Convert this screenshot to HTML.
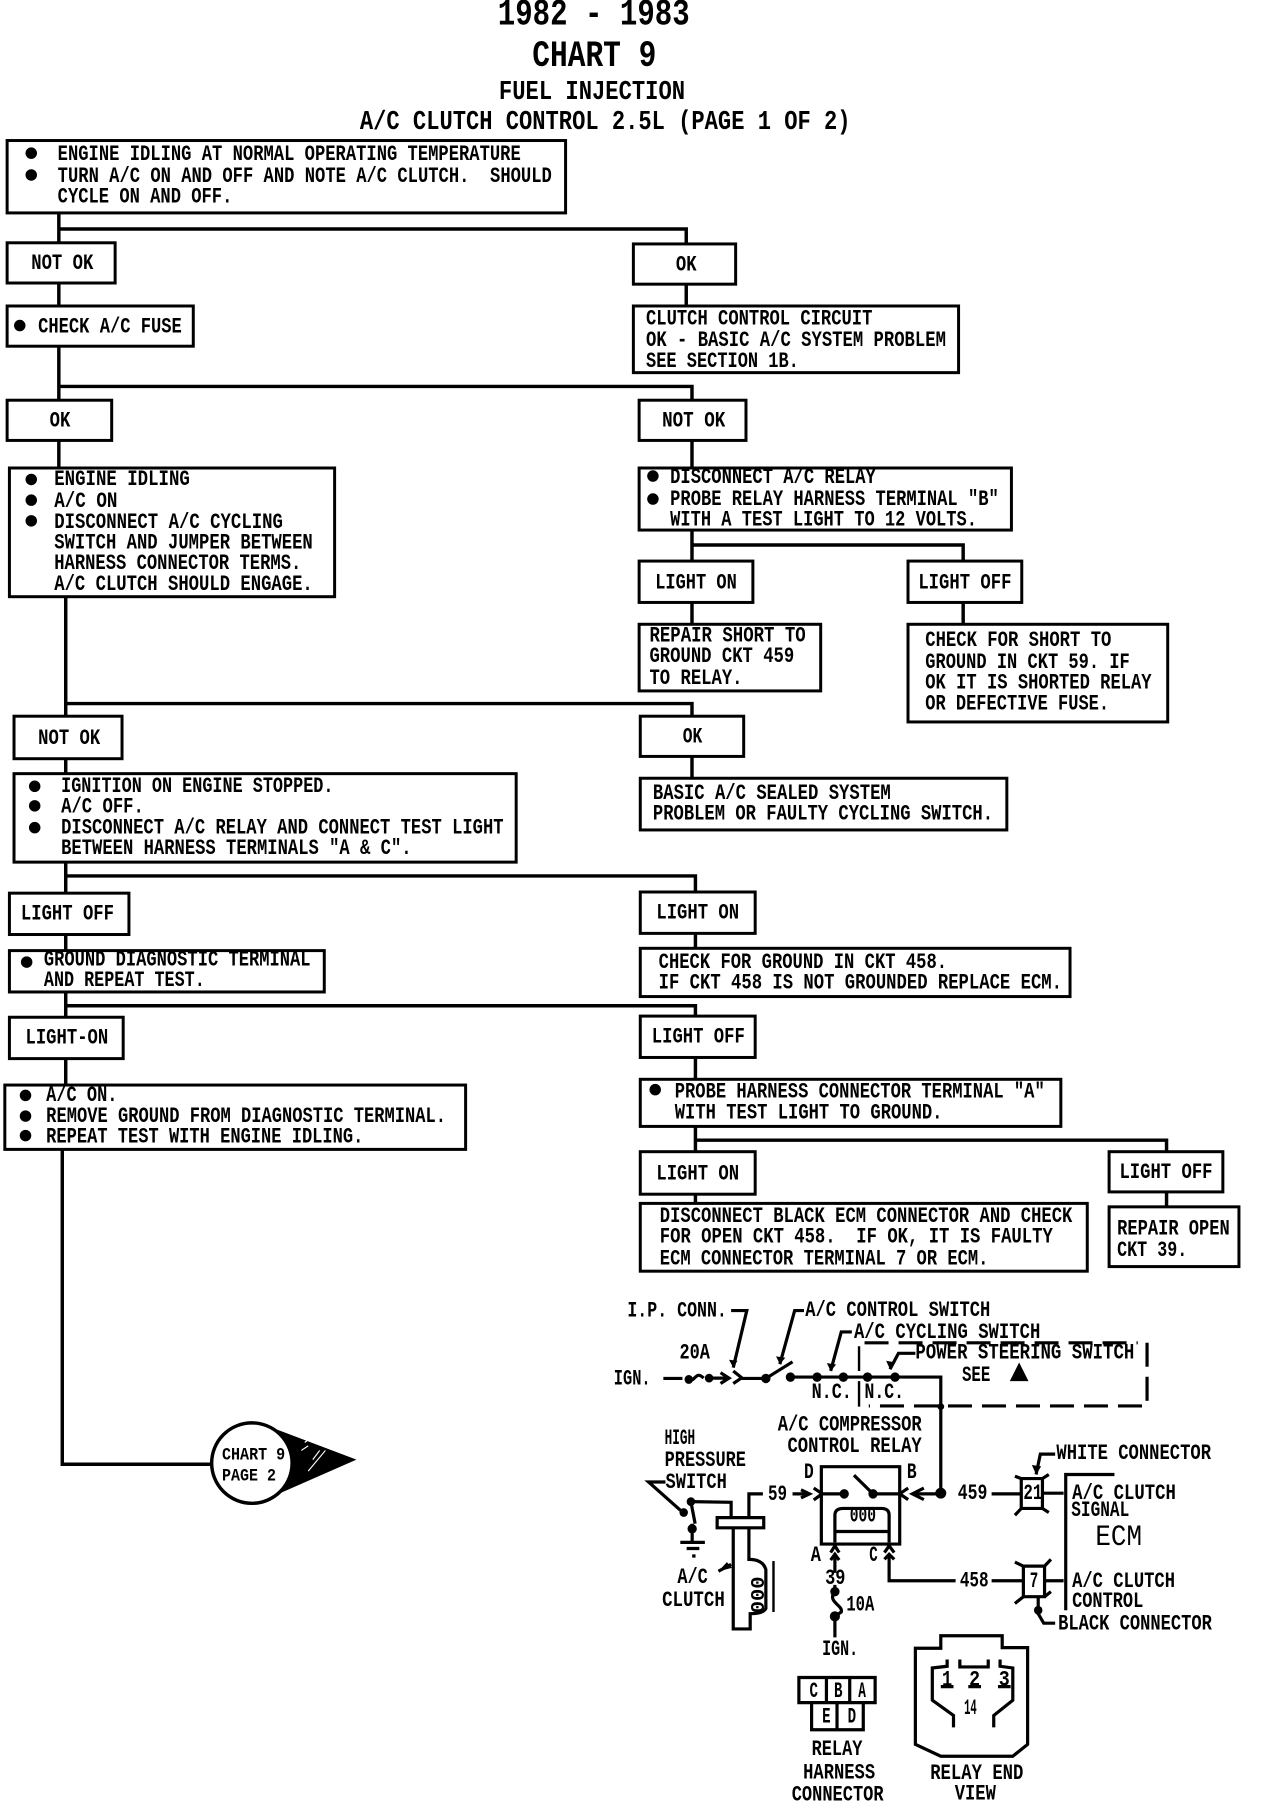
<!DOCTYPE html>
<html><head><meta charset="utf-8"><title>Chart 9</title>
<style>
html,body{margin:0;padding:0;background:#fff;overflow:hidden}
svg{display:block}
text{font-family:"Liberation Mono",monospace;font-weight:bold;fill:#000}
.t{font-size:19px}
.m{font-size:23px}
.l{font-size:32px}
.s{font-size:15px}
.b rect{fill:#fff;stroke:#000;stroke-width:2.6}
.c path{fill:none;stroke:#000;stroke-width:3}
.w path,.w rect,.w line{fill:none;stroke:#000;stroke-width:3.2;vector-effect:non-scaling-stroke}
.w .th{stroke-width:2.4}
.w .d{stroke-width:3.2;stroke-dasharray:24 10}
.w path.f{fill:#000;stroke:none}
.w text{font-size:66px}
.w .big{font-size:88px;font-weight:normal}
</style></head><body>
<svg xmlns="http://www.w3.org/2000/svg" width="1264" height="1804" viewBox="0 0 1100 1570" preserveAspectRatio="none">
<rect width="1100" height="1570" fill="#fff"/>
<g transform="translate(.2,.3)">
<g class="c">
<path d="M51 185V211M51 199H597V212M597 247V266M51 246V266M51 301V348M51 336H602V348M602 383V407M51 383V407M602 461V488M602 474H838V488M602 524V543M838 524V543"/>
<path d="M57 519V623M57 612H602V623M602 658V677M57 660V673M57 750V777M57 762H605V776M605 812V825M57 813V827M57 863V885M57 875H605V884M605 920V939M57 921V944M605 980V1002M605 992H1015V1002M1015 1037V1050M605 1039V1047"/>
<path d="M54 1000V1274H186"/>
</g>

<g class="b">
<rect x="6" y="122" width="486" height="63"/>
<rect x="6" y="211" width="94" height="35"/>
<rect x="551" y="212" width="89" height="35"/>
<rect x="6" y="266" width="162" height="35"/>
<rect x="551" y="266" width="283" height="58"/>
<rect x="6" y="348" width="91" height="35"/>
<rect x="556" y="348" width="93" height="35"/>
<rect x="8" y="407" width="283" height="112"/>
<rect x="556" y="407" width="324" height="54"/>
<rect x="556" y="488" width="99" height="36"/>
<rect x="790" y="488" width="99" height="36"/>
<rect x="556" y="543" width="158" height="58"/>
<rect x="790" y="543" width="226" height="85"/>
<rect x="12" y="623" width="94" height="37"/>
<rect x="557" y="623" width="90" height="35"/>
<rect x="12" y="673" width="437" height="77"/>
<rect x="557" y="677" width="319" height="45"/>
<rect x="8" y="777" width="104" height="36"/>
<rect x="557" y="776" width="100" height="36"/>
<rect x="8" y="827" width="274" height="36"/>
<rect x="557" y="825" width="374" height="42"/>
<rect x="8" y="885" width="99" height="36"/>
<rect x="557" y="884" width="100" height="36"/>
<rect x="4" y="944" width="401" height="56"/>
<rect x="557" y="939" width="366" height="41"/>
<rect x="557" y="1002" width="100" height="37"/>
<rect x="965" y="1002" width="99" height="35"/>
<rect x="557" y="1047" width="389" height="59"/>
<rect x="965" y="1050" width="113" height="52"/>
</g>

<g>
<circle cx="27" cy="133" r="5"/><circle cx="27" cy="152" r="5"/>
<circle cx="17" cy="283" r="5"/>
<circle cx="27" cy="417" r="5"/><circle cx="27" cy="435" r="5"/><circle cx="27" cy="453" r="5"/>
<circle cx="568" cy="414" r="5"/><circle cx="568" cy="434" r="5"/>
<circle cx="30" cy="684" r="5"/><circle cx="30" cy="701" r="5"/><circle cx="30" cy="720" r="5"/>
<circle cx="23" cy="837" r="5"/>
<circle cx="22" cy="953" r="5"/><circle cx="22" cy="971" r="5"/><circle cx="22" cy="988" r="5"/>
<circle cx="570" cy="948" r="5"/>
</g>

<text class="l" x="433" y="21" textLength="167" lengthAdjust="spacingAndGlyphs">1982 - 1983</text>
<text class="l" x="463" y="57" textLength="108" lengthAdjust="spacingAndGlyphs">CHART 9</text>
<text class="m" x="434" y="86" textLength="162" lengthAdjust="spacingAndGlyphs">FUEL INJECTION</text>
<text class="m" x="313" y="112" textLength="427" lengthAdjust="spacingAndGlyphs">A/C CLUTCH CONTROL 2.5L (PAGE 1 OF 2)</text>

<g class="t">
<text class="t" x="50" y="139" textLength="403" lengthAdjust="spacingAndGlyphs">ENGINE IDLING AT NORMAL OPERATING TEMPERATURE</text>
<text class="t" x="50" y="158" textLength="430" lengthAdjust="spacingAndGlyphs">TURN A/C ON AND OFF AND NOTE A/C CLUTCH.&#160;&#160;SHOULD</text>
<text class="t" x="50" y="176" textLength="152" lengthAdjust="spacingAndGlyphs">CYCLE ON AND OFF.</text>
<text class="t" x="27" y="234" textLength="54" lengthAdjust="spacingAndGlyphs">NOT OK</text>
<text class="t" x="588" y="235" textLength="18" lengthAdjust="spacingAndGlyphs">OK</text>
<text class="t" x="33" y="289" textLength="125" lengthAdjust="spacingAndGlyphs">CHECK A/C FUSE</text>
<text class="t" x="562" y="282" textLength="197" lengthAdjust="spacingAndGlyphs">CLUTCH CONTROL CIRCUIT</text>
<text class="t" x="562" y="301" textLength="261" lengthAdjust="spacingAndGlyphs">OK - BASIC A/C SYSTEM PROBLEM</text>
<text class="t" x="562" y="319" textLength="133" lengthAdjust="spacingAndGlyphs">SEE SECTION 1B.</text>
<text class="t" x="43" y="371" textLength="18" lengthAdjust="spacingAndGlyphs">OK</text>
<text class="t" x="576" y="371" textLength="55" lengthAdjust="spacingAndGlyphs">NOT OK</text>
<text class="t" x="47" y="422" textLength="118" lengthAdjust="spacingAndGlyphs">ENGINE IDLING</text>
<text class="t" x="47" y="441" textLength="55" lengthAdjust="spacingAndGlyphs">A/C ON</text>
<text class="t" x="47" y="459" textLength="199" lengthAdjust="spacingAndGlyphs">DISCONNECT A/C CYCLING</text>
<text class="t" x="47" y="477" textLength="225" lengthAdjust="spacingAndGlyphs">SWITCH AND JUMPER BETWEEN</text>
<text class="t" x="47" y="495" textLength="215" lengthAdjust="spacingAndGlyphs">HARNESS CONNECTOR TERMS.</text>
<text class="t" x="47" y="513" textLength="225" lengthAdjust="spacingAndGlyphs">A/C CLUTCH SHOULD ENGAGE.</text>
<text class="t" x="583" y="420" textLength="179" lengthAdjust="spacingAndGlyphs">DISCONNECT A/C RELAY</text>
<text class="t" x="583" y="439" textLength="286" lengthAdjust="spacingAndGlyphs">PROBE RELAY HARNESS TERMINAL "B"</text>
<text class="t" x="583" y="457" textLength="267" lengthAdjust="spacingAndGlyphs">WITH A TEST LIGHT TO 12 VOLTS.</text>
<text class="t" x="570" y="512" textLength="71" lengthAdjust="spacingAndGlyphs">LIGHT ON</text>
<text class="t" x="799" y="512" textLength="81" lengthAdjust="spacingAndGlyphs">LIGHT OFF</text>
<text class="t" x="565" y="558" textLength="136" lengthAdjust="spacingAndGlyphs">REPAIR SHORT TO</text>
<text class="t" x="565" y="576" textLength="126" lengthAdjust="spacingAndGlyphs">GROUND CKT 459</text>
<text class="t" x="565" y="595" textLength="81" lengthAdjust="spacingAndGlyphs">TO RELAY.</text>
<text class="t" x="805" y="562" textLength="162" lengthAdjust="spacingAndGlyphs">CHECK FOR SHORT TO</text>
<text class="t" x="805" y="581" textLength="178" lengthAdjust="spacingAndGlyphs">GROUND IN CKT 59. IF</text>
<text class="t" x="805" y="599" textLength="197" lengthAdjust="spacingAndGlyphs">OK IT IS SHORTED RELAY</text>
<text class="t" x="805" y="617" textLength="160" lengthAdjust="spacingAndGlyphs">OR DEFECTIVE FUSE.</text>
<text class="t" x="33" y="647" textLength="54" lengthAdjust="spacingAndGlyphs">NOT OK</text>
<text class="t" x="594" y="646" textLength="17" lengthAdjust="spacingAndGlyphs">OK</text>
<text class="t" x="53" y="689" textLength="237" lengthAdjust="spacingAndGlyphs">IGNITION ON ENGINE STOPPED.</text>
<text class="t" x="53" y="707" textLength="72" lengthAdjust="spacingAndGlyphs">A/C OFF.</text>
<text class="t" x="53" y="725" textLength="385" lengthAdjust="spacingAndGlyphs">DISCONNECT A/C RELAY AND CONNECT TEST LIGHT</text>
<text class="t" x="53" y="743" textLength="305" lengthAdjust="spacingAndGlyphs">BETWEEN HARNESS TERMINALS "A &amp; C".</text>
<text class="t" x="568" y="695" textLength="207" lengthAdjust="spacingAndGlyphs">BASIC A/C SEALED SYSTEM</text>
<text class="t" x="568" y="713" textLength="296" lengthAdjust="spacingAndGlyphs">PROBLEM OR FAULTY CYCLING SWITCH.</text>
<text class="t" x="18" y="800" textLength="81" lengthAdjust="spacingAndGlyphs">LIGHT OFF</text>
<text class="t" x="571" y="799" textLength="72" lengthAdjust="spacingAndGlyphs">LIGHT ON</text>
<text class="t" x="38" y="840" textLength="232" lengthAdjust="spacingAndGlyphs">GROUND DIAGNOSTIC TERMINAL</text>
<text class="t" x="38" y="858" textLength="140" lengthAdjust="spacingAndGlyphs">AND REPEAT TEST.</text>
<text class="t" x="573" y="842" textLength="251" lengthAdjust="spacingAndGlyphs">CHECK FOR GROUND IN CKT 458.</text>
<text class="t" x="573" y="860" textLength="351" lengthAdjust="spacingAndGlyphs">IF CKT 458 IS NOT GROUNDED REPLACE ECM.</text>
<text class="t" x="22" y="908" textLength="72" lengthAdjust="spacingAndGlyphs">LIGHT-ON</text>
<text class="t" x="567" y="907" textLength="81" lengthAdjust="spacingAndGlyphs">LIGHT OFF</text>
<text class="t" x="40" y="958" textLength="62" lengthAdjust="spacingAndGlyphs">A/C ON.</text>
<text class="t" x="40" y="976" textLength="348" lengthAdjust="spacingAndGlyphs">REMOVE GROUND FROM DIAGNOSTIC TERMINAL.</text>
<text class="t" x="40" y="994" textLength="276" lengthAdjust="spacingAndGlyphs">REPEAT TEST WITH ENGINE IDLING.</text>
<text class="t" x="587" y="955" textLength="322" lengthAdjust="spacingAndGlyphs">PROBE HARNESS CONNECTOR TERMINAL "A"</text>
<text class="t" x="587" y="973" textLength="233" lengthAdjust="spacingAndGlyphs">WITH TEST LIGHT TO GROUND.</text>
<text class="t" x="571" y="1026" textLength="72" lengthAdjust="spacingAndGlyphs">LIGHT ON</text>
<text class="t" x="974" y="1025" textLength="81" lengthAdjust="spacingAndGlyphs">LIGHT OFF</text>
<text class="t" x="574" y="1063" textLength="359" lengthAdjust="spacingAndGlyphs">DISCONNECT BLACK ECM CONNECTOR AND CHECK</text>
<text class="t" x="574" y="1081" textLength="342" lengthAdjust="spacingAndGlyphs">FOR OPEN CKT 458.&#160;&#160;IF OK, IT IS FAULTY</text>
<text class="t" x="574" y="1100" textLength="286" lengthAdjust="spacingAndGlyphs">ECM CONNECTOR TERMINAL 7 OR ECM.</text>
<text class="t" x="972" y="1074" textLength="98" lengthAdjust="spacingAndGlyphs">REPAIR OPEN</text>
<text class="t" x="972" y="1093" textLength="61" lengthAdjust="spacingAndGlyphs">CKT 39.</text>
</g>

<!-- off-page connector -->
<path d="M228 1239L310 1270L228 1306Z" fill="#000"/>
<path d="M265 1255L272 1250M278 1262L272 1270M283 1262L268 1280M262 1262L268 1258" stroke="#fff" stroke-width="1" fill="none"/>
<circle cx="219" cy="1273" r="35" fill="#fff" stroke="#000" stroke-width="3"/>
<text class="s" x="193" y="1270" textLength="55" lengthAdjust="spacingAndGlyphs">CHART 9</text>
<text class="s" x="193" y="1288" textLength="47" lengthAdjust="spacingAndGlyphs">PAGE 2</text>
</g>

<!-- clutch coil label placed in page units -->
<text transform="translate(665,1404) rotate(-90)" style="font-size:17px" textLength="32" lengthAdjust="spacingAndGlyphs">000</text>

<!-- wiring schematic -->
<g class="w" transform="translate(522,1106) scale(.3686,.2954)">
<path d="M150 317H195M205 320C225 335 225 290 245 316M258 316H300M285 300L305 316L285 332M315 295L335 315L315 332M335 317H392L455 268M450 313H805V657M805 657H740M765 640L738 657L765 674M728 640L708 657L728 674M708 657H645L600 602M577 657H525M505 640L525 657L505 675"/>
<path d="M310 117H347L315 285M482 117H460L425 275M595 180H570L545 295M745 243H705L685 290"/>
<path class="d" d="M625 212H1270"/>
<path class="d" d="M1292 212V388"/>
<path class="d" d="M1280 398H635"/>
<path class="th" d="M612 222V295M612 325V400"/>
<path d="M455 657H490M475 645L495 657L475 669"/>
<rect x="523" y="577" width="185" height="228"/>
<path d="M555 800V720Q555 700 575 700H665Q683 700 683 720V800M555 768H683"/>
<path d="M545 830L555 810L565 830M555 890V832M545 852L555 835L565 852M555 925V945M672 830L683 810L695 830M672 850L683 835L695 850M683 840V913H840M925 913H1000M1050 913H1095"/>
<path d="M555 945C535 975 575 985 570 1005L555 1018V1080"/>
<path d="M925 657H995M1045 655H1095M1100 1000V600H1215"/>
<rect x="995" y="612" width="50" height="88"/>
<path d="M980 605L995 612M1045 612L1060 600M980 720L995 700M1045 700L1060 712M980 858L1000 870M1050 870L1065 850M980 980L1000 960M1050 960L1065 945"/>
<rect x="1000" y="870" width="50" height="90"/>
<path d="M1075 540H1040L1030 600M1035 960V1010L1048 1038H1075"/>
<path d="M385 657H352V725M215 680L310 682V725M352 757V850Q385 850 392 880V995Q385 1010 355 1010V1055H315V757"/>
<rect x="277" y="727" width="110" height="30"/>
<path class="th" d="M410 855V1005"/>
<path d="M155 622H115L190 705M215 680L225 745M218 745V797M190 800H248M205 818H235M218 840H226M280 885L310 865"/>
<path d="M745 1112H805V1075H950V1110H1010V1395L975 1430H805L745 1395Z"/>
<path d="M820 1145V1165L785 1170V1265L835 1310V1345M945 1145V1165L975 1170V1265L930 1310V1345M850 1145V1167H917V1145"/>
<path d="M805 1225H835M870 1225H900M940 1225H970"/>
<rect x="470" y="1198" width="180" height="74"/>
<path d="M535 1198V1272M590 1198V1272M500 1272V1352H622V1272M560 1272V1352"/>
<path class="f" d="M968 325L990 270L1012 325Z"/>
<g fill="#000">
<ellipse cx="210" cy="320" rx="10" ry="13"/><ellipse cx="258" cy="316" rx="10" ry="13"/><ellipse cx="392" cy="317" rx="11" ry="14"/><ellipse cx="450" cy="313" rx="11" ry="14"/><ellipse cx="513" cy="313" rx="11" ry="14"/><ellipse cx="575" cy="313" rx="11" ry="14"/><ellipse cx="632" cy="313" rx="11" ry="14"/><ellipse cx="697" cy="313" rx="11" ry="14"/><ellipse cx="805" cy="400" rx="8" ry="10"/>
<ellipse cx="577" cy="657" rx="11" ry="14"/><ellipse cx="645" cy="657" rx="11" ry="14"/><ellipse cx="805" cy="655" rx="13" ry="16"/><ellipse cx="555" cy="945" rx="11" ry="14"/><ellipse cx="555" cy="1018" rx="12" ry="15"/><ellipse cx="215" cy="680" rx="10" ry="13"/><ellipse cx="198" cy="712" rx="10" ry="13"/><ellipse cx="218" cy="760" rx="11" ry="14"/><ellipse cx="1035" cy="1000" rx="10" ry="13"/>
<path class="f" d="M315 285L305 262L325 265ZM425 275L416 252L438 256ZM545 295L536 272L558 276ZM685 290L676 265L698 270ZM1030 600L1020 572L1042 576ZM280 885L300 858L312 875Z"/>
</g>
<g>
<text x="65" y="135" textLength="235" lengthAdjust="spacingAndGlyphs">I.P. CONN.</text>
<text x="485" y="133" textLength="437" lengthAdjust="spacingAndGlyphs">A/C CONTROL SWITCH</text>
<text x="600" y="198" textLength="440" lengthAdjust="spacingAndGlyphs">A/C CYCLING SWITCH</text>
<text x="745" y="258" textLength="517" lengthAdjust="spacingAndGlyphs">POWER STEERING SWITCH</text>
<text x="188" y="258" textLength="72" lengthAdjust="spacingAndGlyphs">20A</text>
<text x="33" y="335" textLength="87" lengthAdjust="spacingAndGlyphs">IGN.</text>
<text x="855" y="325" textLength="67" lengthAdjust="spacingAndGlyphs">SEE</text>
<text x="500" y="375" textLength="95" lengthAdjust="spacingAndGlyphs">N.C.</text>
<text x="625" y="375" textLength="93" lengthAdjust="spacingAndGlyphs">N.C.</text>
<text x="420" y="470" textLength="340" lengthAdjust="spacingAndGlyphs">A/C COMPRESSOR</text>
<text x="443" y="533" textLength="317" lengthAdjust="spacingAndGlyphs">CONTROL RELAY</text>
<text x="153" y="510" textLength="72" lengthAdjust="spacingAndGlyphs">HIGH</text>
<text x="153" y="575" textLength="192" lengthAdjust="spacingAndGlyphs">PRESSURE</text>
<text x="155" y="640" textLength="145" lengthAdjust="spacingAndGlyphs">SWITCH</text>
<text x="482" y="610" textLength="23" lengthAdjust="spacingAndGlyphs">D</text>
<text x="725" y="610" textLength="23" lengthAdjust="spacingAndGlyphs">B</text>
<text x="397" y="675" textLength="45" lengthAdjust="spacingAndGlyphs">59</text>
<text x="845" y="672" textLength="70" lengthAdjust="spacingAndGlyphs">459</text>
<text x="1078" y="555" textLength="365" lengthAdjust="spacingAndGlyphs">WHITE CONNECTOR</text>
<text x="1115" y="672" textLength="245" lengthAdjust="spacingAndGlyphs">A/C CLUTCH</text>
<text x="1113" y="723" textLength="137" lengthAdjust="spacingAndGlyphs">SIGNAL</text>
<text class="big" x="1170" y="808" textLength="110" lengthAdjust="spacingAndGlyphs">ECM</text>
<text x="1115" y="932" textLength="243" lengthAdjust="spacingAndGlyphs">A/C CLUTCH</text>
<text x="1115" y="990" textLength="168" lengthAdjust="spacingAndGlyphs">CONTROL</text>
<text x="1082" y="1057" textLength="363" lengthAdjust="spacingAndGlyphs">BLACK CONNECTOR</text>
<text x="498" y="855" textLength="24" lengthAdjust="spacingAndGlyphs">A</text>
<text x="636" y="855" textLength="20" lengthAdjust="spacingAndGlyphs">C</text>
<text x="532" y="922" textLength="48" lengthAdjust="spacingAndGlyphs">39</text>
<text x="582" y="1000" textLength="66" lengthAdjust="spacingAndGlyphs">10A</text>
<text x="850" y="930" textLength="68" lengthAdjust="spacingAndGlyphs">458</text>
<text x="1015" y="932" textLength="20" lengthAdjust="spacingAndGlyphs">7</text>
<text x="1000" y="672" textLength="45" lengthAdjust="spacingAndGlyphs">21</text>
<text x="183" y="920" textLength="72" lengthAdjust="spacingAndGlyphs">A/C</text>
<text x="147" y="987" textLength="148" lengthAdjust="spacingAndGlyphs">CLUTCH</text>
<text x="525" y="1132" textLength="85" lengthAdjust="spacingAndGlyphs">IGN.</text>
<text x="495" y="1255" textLength="20" lengthAdjust="spacingAndGlyphs">C</text>
<text x="553" y="1255" textLength="20" lengthAdjust="spacingAndGlyphs">B</text>
<text x="610" y="1255" textLength="18" lengthAdjust="spacingAndGlyphs">A</text>
<text x="525" y="1330" textLength="20" lengthAdjust="spacingAndGlyphs">E</text>
<text x="585" y="1330" textLength="20" lengthAdjust="spacingAndGlyphs">D</text>
<text x="500" y="1427" textLength="120" lengthAdjust="spacingAndGlyphs">RELAY</text>
<text x="480" y="1495" textLength="170" lengthAdjust="spacingAndGlyphs">HARNESS</text>
<text x="453" y="1560" textLength="217" lengthAdjust="spacingAndGlyphs">CONNECTOR</text>
<text x="780" y="1497" textLength="220" lengthAdjust="spacingAndGlyphs">RELAY END</text>
<text x="838" y="1558" textLength="97" lengthAdjust="spacingAndGlyphs">VIEW</text>
<text x="808" y="1222" textLength="24" lengthAdjust="spacingAndGlyphs">1</text>
<text x="872" y="1222" textLength="26" lengthAdjust="spacingAndGlyphs">2</text>
<text x="942" y="1222" textLength="26" lengthAdjust="spacingAndGlyphs">3</text>
<text x="860" y="1305" textLength="30" lengthAdjust="spacingAndGlyphs">14</text>
<text x="590" y="738" textLength="62" lengthAdjust="spacingAndGlyphs">000</text>
</g>
</g>
</svg>
</body></html>
